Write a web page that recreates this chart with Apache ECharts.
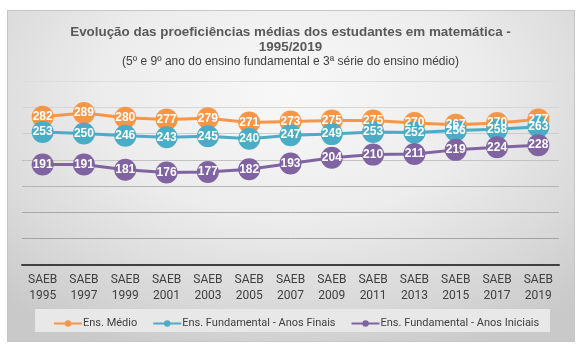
<!DOCTYPE html>
<html>
<head>
<meta charset="utf-8">
<script src="https://cdn.jsdelivr.net/npm/echarts@6/dist/echarts.min.js"></script>
<style>
html,body{margin:0;padding:0;background:#fff;}
#frame{position:absolute;left:7px;top:10px;width:566px;height:330px;border:1px solid #c6c6c6;
background:radial-gradient(ellipse 75% 85% at 50% 25%, #f8f8f8 0%, #ececec 45%, #dadada 75%, #c9c9c9 100%);}
#legbox{position:absolute;left:35px;top:309px;width:515px;height:23px;background:#e8e8e8;}
#chart{position:absolute;left:0;top:0;width:581px;height:347px;}
</style>
</head>
<body>
<div id="frame"></div>
<div id="legbox"></div>
<div id="chart"></div>
<script>
const categories = ['SAEB\n1995','SAEB\n1997','SAEB\n1999','SAEB\n2001','SAEB\n2003','SAEB\n2005','SAEB\n2007','SAEB\n2009','SAEB\n2011','SAEB\n2013','SAEB\n2015','SAEB\n2017','SAEB\n2019'];
const ensMedio = [282, 289, 280, 277, 279, 271, 273, 275, 275, 270, 267, 270, 277];
const anosFinais = [253, 250, 246, 243, 245, 240, 247, 249, 253, 252, 256, 258, 263];
const anosIniciais = [191, 191, 181, 176, 177, 182, 193, 204, 210, 211, 219, 224, 228];
const seriesNames = ['Ens. Médio', 'Ens. Fundamental - Anos Finais', 'Ens. Fundamental - Anos Iniciais'];
const colors = ['#F79646', '#4BACC6', '#8064A2'];

const chart = echarts.init(document.getElementById('chart'), null, {renderer: 'canvas'});
function mk(name, data, color) {
  return {
    name: name, type: 'line', data: data,
    symbol: 'circle', symbolSize: 22,
    itemStyle: {color: color},
    lineStyle: {color: color, width: 3},
    label: {show: true, position: 'inside', color: '#fff', fontWeight: 'bold',
      fontSize: 12, fontFamily: 'Liberation Sans, Arial, sans-serif'},
    emphasis: {disabled: true},
    animation: false
  };
}
chart.setOption({
  backgroundColor: 'transparent',
  animation: false,
  title: [
    {text: 'Evolução das proeficiências médias dos estudantes em matemática -\n1995/2019',
     left: 'center', top: 20,
     textStyle: {fontSize: 13.4, fontWeight: 'bold', color: '#595959', lineHeight: 15,
       fontFamily: 'Liberation Sans, Arial, sans-serif'}},
    {text: '(5º e 9º ano do ensino fundamental e 3ª série do ensino médio)',
     left: 'center', top: 51,
     textStyle: {fontSize: 12, fontWeight: 'normal', color: '#404040',
       fontFamily: 'Liberation Sans, Arial, sans-serif'}}
  ],
  grid: {left: 22, right: 22, top: 81, bottom: 82, containLabel: false},
  legend: {
    data: seriesNames, left: 48, top: 313, width: 520, itemWidth: 28, itemHeight: 8, itemGap: 15,
    textStyle: {fontSize: 11, color: '#404040', padding: [0,0,0,-4],
      fontFamily: 'Roboto, sans-serif'}
  },
  xAxis: {
    type: 'category', data: categories, boundaryGap: true,
    axisLine: {lineStyle: {color: '#404040', width: 2}},
    axisTick: {show: false},
    axisLabel: {color: '#404040', fontSize: 12, lineHeight: 16, margin: 7, interval: 0,
      fontFamily: 'Roboto, sans-serif'}
  },
  yAxis: {
    type: 'value', min: 0, max: 350, interval: 50,
    axisLabel: {show: false}, axisLine: {show: false}, axisTick: {show: false},
    splitLine: {lineStyle: {width: 1, color: ['#404040','#a4a4a4','#a8a8a8','#b4b4b4','#c2c2c2','#cdcdcd','#d6d6d6','#dedede']}}
  },
  series: [mk(seriesNames[0], ensMedio, colors[0]), mk(seriesNames[1], anosFinais, colors[1]), mk(seriesNames[2], anosIniciais, colors[2])]
});
</script>
</body>
</html>
